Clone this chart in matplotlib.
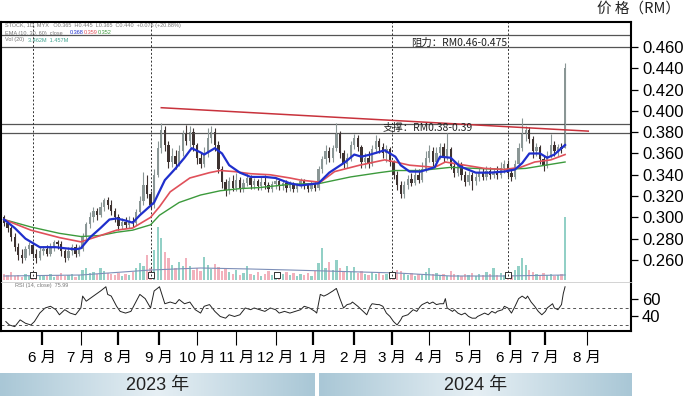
import numpy as np
import pandas as pd
import matplotlib
matplotlib.use("Agg")
import matplotlib.pyplot as plt
from matplotlib.colors import LinearSegmentedColormap
from matplotlib.ticker import FormatStrFormatter

plt.rcParams['font.family'] = ['Liberation Sans', 'Noto Sans CJK SC']

# daily candles, one every 2 trading days (RM)
opens = [.300, .295, .290, .282, .272, .265, .262, .270, .274, .266,
         .262, .268, .270, .266, .272, .277, .275, .268, .262, .268,
         .272, .266, .270, .282, .294, .300, .306, .302, .310, .316,
         .312, .306, .300, .292, .296, .293, .297, .295, .305, .315,
         .330, .322, .312, .340, .365, .382, .368, .352, .358, .350,
         .362, .378, .372, .380, .368, .356, .350, .360, .375, .380,
         .368, .345, .333, .326, .334, .328, .335, .327, .332, .337,
         .330, .334, .329, .333, .330, .327, .331, .334, .329, .332,
         .328, .331, .327, .330, .334, .330, .327, .331, .328, .345,
         .355, .362, .356, .365, .378, .360, .350, .356, .368, .375,
         .366, .352, .356, .350, .364, .372, .366, .360, .364, .352,
         .340, .330, .322, .330, .336, .332, .340, .335, .345, .356,
         .362, .352, .360, .366, .356, .364, .348, .342, .350, .340,
         .333, .340, .334, .338, .342, .338, .344, .340, .343, .340,
         .346, .350, .342, .338, .350, .365, .378, .382, .374, .362,
         .366, .355, .348, .358, .368, .362, .366, .365]
closes = [.295, .290, .282, .272, .265, .262, .270, .274, .266, .262,
          .268, .270, .266, .272, .277, .275, .268, .262, .268, .272,
          .266, .270, .282, .294, .300, .306, .302, .310, .316, .312,
          .306, .300, .292, .296, .293, .297, .295, .305, .315, .330,
          .322, .312, .340, .365, .382, .368, .352, .358, .350, .362,
          .378, .372, .380, .368, .356, .350, .360, .375, .380, .368,
          .345, .333, .326, .334, .328, .335, .327, .332, .337, .330,
          .334, .329, .333, .330, .327, .331, .334, .329, .332, .328,
          .331, .327, .330, .334, .330, .327, .331, .328, .345, .355,
          .362, .356, .365, .378, .360, .350, .356, .368, .375, .366,
          .352, .356, .350, .364, .372, .366, .360, .364, .352, .340,
          .330, .322, .330, .336, .332, .340, .335, .345, .356, .362,
          .352, .360, .366, .356, .364, .348, .342, .350, .340, .333,
          .340, .334, .338, .342, .338, .344, .340, .343, .340, .346,
          .350, .342, .338, .350, .365, .378, .382, .374, .362, .366,
          .355, .348, .358, .368, .362, .366, .364, .440]
highs = [.302, .297, .292, .285, .276, .270, .273, .277, .276, .270,
         .272, .273, .274, .276, .279, .279, .278, .270, .272, .275,
         .275, .274, .285, .296, .305, .310, .309, .314, .318, .319,
         .316, .309, .303, .299, .300, .301, .300, .308, .320, .343,
         .340, .325, .345, .372, .389, .386, .372, .365, .363, .368,
         .382, .387, .386, .384, .370, .360, .366, .384, .386, .384,
         .372, .348, .336, .338, .340, .342, .338, .336, .342, .340,
         .337, .336, .338, .340, .333, .334, .337, .336, .335, .335,
         .334, .333, .332, .337, .336, .332, .334, .333, .348, .358,
         .368, .366, .368, .389, .381, .363, .360, .372, .378, .377,
         .368, .360, .362, .368, .377, .375, .370, .368, .366, .354,
         .344, .334, .334, .340, .342, .346, .345, .352, .362, .368,
         .366, .366, .370, .370, .379, .366, .352, .354, .352, .344,
         .344, .343, .342, .346, .346, .348, .347, .346, .348, .352,
         .354, .354, .345, .354, .370, .393, .386, .385, .376, .370,
         .368, .358, .362, .378, .372, .369, .370, .445]
lows = [.292, .286, .278, .268, .260, .257, .260, .265, .262, .257,
        .260, .265, .264, .264, .268, .270, .264, .258, .260, .265,
        .263, .264, .268, .280, .290, .296, .298, .300, .306, .308,
        .302, .296, .288, .289, .290, .290, .291, .293, .303, .312,
        .318, .308, .309, .338, .360, .362, .346, .347, .345, .348,
        .358, .368, .366, .362, .350, .346, .347, .357, .370, .362,
        .342, .328, .320, .322, .325, .325, .324, .324, .329, .327,
        .327, .326, .326, .327, .324, .324, .327, .326, .326, .324,
        .325, .324, .324, .328, .327, .324, .325, .325, .326, .342,
        .350, .352, .352, .362, .356, .346, .346, .353, .364, .362,
        .346, .346, .346, .348, .360, .360, .356, .352, .348, .336,
        .326, .318, .318, .327, .329, .330, .332, .333, .343, .352,
        .348, .348, .355, .352, .354, .345, .338, .339, .335, .329,
        .330, .326, .330, .334, .335, .335, .336, .337, .336, .337,
        .342, .338, .334, .336, .348, .362, .372, .370, .356, .358,
        .350, .344, .346, .356, .358, .358, .360, .365]
volumes = [6, 5, 8, 4, 5, 3, 6, 4, 5, 7, 4,
           5, 4, 6, 3, 5, 7, 4, 5, 6, 3, 5,
           10, 12, 7, 8, 6, 12, 9, 7, 6,
           5, 7, 4, 6, 5, 8, 12, 17,
           14, 25, 12, 30, 53, 42, 28, 22, 15, 12, 18, 14, 22, 14, 10, 12, 9, 23, 15, 11, 16, 13, 9, 12,
           8, 6, 10, 5, 7, 14, 6, 5, 8, 4, 6, 9, 5, 7, 4, 6, 8, 5, 7, 4, 6, 5, 7, 4, 9,
           17, 32, 12, 18, 10, 20, 12, 9, 14, 8, 13, 7, 9, 6, 5, 8, 6, 7, 5, 6, 5, 8, 10,
           9, 6, 5, 7, 4, 6, 5, 8, 12, 6, 7, 5, 6, 4, 9, 6, 5, 4, 6, 5, 7, 4, 6, 5, 8, 6, 12, 5, 7, 5,
           6, 5, 10, 14, 22, 15, 10, 8, 6, 5, 7, 5, 6, 4, 5, 6, 63]
vol_ma_x = [0, 43, 82, 110, 138, 160, 180, 220, 250, 280, 314]
vol_ma = [4, 5, 10, 12, 11, 10, 9, 7, 4, 4, 5]

# moving averages (trading-day index, price)
ma_s_x = [0, 6, 12, 20, 29, 34, 40, 43, 48, 54, 59, 63, 68, 72, 76, 82, 84, 90, 96, 101,
          105, 110, 112, 118, 122, 126, 132, 138, 146, 152, 160, 166, 176, 182, 191, 196, 200,
          205, 213, 219, 222, 227, 233, 241, 244, 250, 255, 264, 272, 280, 286, 290, 294, 300,
          304, 308, 314]
ma_s = [.298, .290, .280, .272, .272, .271, .270, .271, .281, .290, .298, .299, .297, .295,
        .302, .311, .314, .335, .346, .356, .365, .361, .359, .365, .360, .349, .342, .338,
        .338, .337, .332, .330, .332, .342, .352, .359, .357, .359, .363, .357, .349, .343,
        .343, .347, .357, .356, .348, .342, .342, .343, .345, .351, .360, .360, .356, .359, .368]
ma_m_x = [0, 15, 31, 43, 54, 63, 72, 76, 82, 87, 93, 104, 115, 121, 129, 138, 149, 160, 166,
          177, 185, 199, 213, 219, 227, 241, 247, 258, 269, 280, 289, 297, 306, 314]
ma_m = [.298, .288, .281, .277, .283, .288, .290, .294, .300, .310, .324, .337, .342, .344,
        .343, .341, .340, .337, .335, .333, .343, .349, .354, .352, .349, .347, .352, .349,
        .346, .345, .347, .352, .354, .359]
ma_l_x = [0, 15, 31, 43, 54, 63, 72, 82, 87, 98, 110, 121, 132, 143, 160, 177, 194, 210,
          219, 233, 250, 264, 280, 292, 303, 314]
ma_l = [.298, .291, .285, .282, .283, .286, .288, .293, .302, .314, .321, .325, .327, .328,
        .331, .332, .338, .342, .344, .344, .347, .346, .345, .346, .349, .352]

# RSI (trading-day index, value)
rsi_x = [1, 3, 6, 9, 12, 15, 17, 20, 23, 26, 29, 31, 34, 37, 40, 43, 44, 46, 50, 54, 57, 58,
         60, 63, 65, 68, 71, 73, 76, 79, 82, 84, 87, 90, 93, 96, 98, 101, 104, 107, 110, 112,
         115, 118, 121, 124, 126, 129, 132, 135, 138, 140, 143, 146, 149, 152, 154, 157, 160,
         163, 166, 168, 171, 174, 175, 177, 179, 181, 184, 186, 188, 190, 192, 194, 195, 198,
         199, 201, 203, 205, 206, 209, 210, 212, 214, 216, 218, 220, 222, 223, 226, 227, 229,
         231, 233, 234, 237, 238, 240, 242, 244, 246, 247, 248, 251, 252, 254, 256, 258, 260,
         262, 264, 265, 267, 269, 271, 273, 275, 276, 279, 280, 282, 284, 286, 288, 290, 292,
         293, 295, 297, 299, 301, 303, 304, 307, 308, 310, 312, 313, 314]
rsi = [34, 30, 28, 36, 32, 30, 34, 44, 50, 52, 48, 42, 48, 44, 42, 50, 64, 58, 64, 70, 75, 66,
       64, 52, 46, 44, 46, 54, 66, 61, 50, 70, 75, 55, 57, 55, 60, 55, 57, 48, 44, 52,
       54, 46, 40, 38, 42, 40, 42, 50, 48, 50, 48, 46, 50, 48, 44, 46, 44,
       46, 48, 52, 50, 46, 44, 66, 64, 66, 70, 73, 61, 50, 54, 55, 57, 52,
       50, 46, 42, 52, 55, 54, 54, 52, 44, 40, 34, 30, 36, 40, 42, 44, 48,
       46, 52, 54, 57, 55, 57, 54, 55, 55, 61, 50, 46, 48, 44, 42, 44, 40,
       38, 38, 40, 42, 44, 42, 46, 44, 46, 48, 52, 50, 44, 52, 61, 64, 61,
       64, 57, 52, 46, 42, 46, 50, 55, 50, 48, 54, 67, 75]

trend_x = [88, 327]
trend_y = [0.403, 0.381]
support = [0.3795, 0.388]
resist = [0.460, 0.4715]
event_x = [16, 82, 153, 217, 282]
dashed_x = [16, 82, 217, 282]
thick_months = [True, False, True, True, False, False, False, True, True, True, False, False, True, True, False]

days = pd.bdate_range("2023-05-03", "2024-08-05")
pos = np.arange(len(closes)) * 2
month_pos = [i for i in range(1, len(days)) if days[i].month != days[i - 1].month]
month_lbl = [f"{days[i].month} 月" for i in month_pos]

o = np.array(opens)
c = np.array(closes)
up = c >= o

W, H = 686, 396
fig = plt.figure(figsize=(W / 100, H / 100), dpi=100)


def rect(x0, y0, x1, y1):
    return [x0 / W, 1 - y1 / H, (x1 - x0) / W, (y1 - y0) / H]


xlim = (-1.7, 350.9)

# volume underneath
vax = fig.add_axes(rect(1, 22, 631, 282))
vax.bar(pos, volumes, width=1.3, color=np.where(up, '#86cbc0', '#f1a9b5'), linewidth=0, alpha=0.9)
vax.plot(vol_ma_x, vol_ma, color='#7d8fb8', lw=0.8)
vax.scatter(event_x, [5] * len(event_x), marker='s', s=22, facecolor='white', edgecolor='#333333',
            linewidth=0.7, zorder=5)
vax.set_xlim(xlim)
vax.set_ylim(-2, 258)
vax.axis('off')

ax = fig.add_axes(rect(1, 22, 631, 282))
ax.patch.set_visible(False)
ccol = np.where(up, '#8a9695', '#3d3230')
ax.vlines(pos, lows, highs, colors=ccol, lw=0.8)
ax.bar(pos, np.maximum(np.abs(c - o), 0.0008), bottom=np.minimum(o, c), width=1.3, color=ccol, linewidth=0)

for v in support + resist:
    ax.axhline(v, color='#555555', lw=0.9, zorder=1)
ax.vlines(dashed_x, 0.2445, 0.4835, colors='#333333', lw=0.7, linestyles=(0, (2, 2)))
ax.plot(trend_x, trend_y, color='#c8323c', lw=1.1)
ax.plot(ma_l_x, ma_l, color='#3c9a3c', lw=1.0)
ax.plot(ma_m_x, ma_m, color='#e0505a', lw=1.2)
ax.plot(ma_s_x, ma_s, color='#1f2fcc', lw=1.6)

ax.text(228, 0.4642, "阻力：RM0.46-0.475", fontsize=7.5, va='center', family=['Noto Sans CJK SC'],
        color='#222222')
ax.text(212, 0.3837, "支撑：RM0.38-0.39", fontsize=7.5, va='center', family=['Noto Sans CJK SC'],
        color='#222222')

ax.set_xlim(xlim)
ax.set_ylim(0.2393, 0.4835)
ax.set_xticks([])
ax.yaxis.tick_right()
ax.set_yticks(np.arange(0.26, 0.4601, 0.02))
ax.yaxis.set_major_formatter(FormatStrFormatter('%.3f'))
ax.tick_params(axis='y', direction='out', length=5, width=0.9, labelsize=12, pad=3)
ax.spines['bottom'].set_visible(False)
for s in ['top', 'left', 'right']:
    ax.spines[s].set_linewidth(1.5)

# RSI panel
ar = fig.add_axes(rect(1, 282, 631, 331))
ar.plot(rsi_x, rsi, color='#222222', lw=0.7)
for v in [50, 30]:
    ar.axhline(v, color='#555555', lw=0.7, ls=(0, (3, 3)))
ar.set_xlim(xlim)
ar.set_ylim(22.9, 80.6)
ar.yaxis.tick_right()
ar.set_yticks([40, 60])
ar.tick_params(axis='y', direction='out', length=5, width=0.9, labelsize=12, pad=3)
ar.set_xticks(month_pos[:len(thick_months)], month_lbl[:len(thick_months)])
ar.tick_params(axis='x', direction='out', length=10, labelsize=11, pad=4)
for t, thick in zip(ar.xaxis.get_major_ticks(), thick_months):
    t.tick1line.set_markeredgewidth(1.6 if thick else 0.8)
for s in ['bottom', 'left', 'right']:
    ar.spines[s].set_linewidth(1.5)
ar.spines['top'].set_color('#cccccc')
ar.spines['top'].set_linewidth(0.6)
ar.text(6, 76, "RSI (14, close)  75.99", fontsize=4, color='#777777', va='center')

# small legend rows in the top left corner
fig.text(5 / W, 1 - 26 / H, "STOCK, 1D, MYX   O0.365  H0.445  L0.365  C0.440  +0.076 (+20.88%)",
         fontsize=4, color='#777777', va='center')
fig.text(5 / W, 1 - 33 / H, "EMA (10, 30, 60)  close", fontsize=4, color='#777777', va='center')
fig.text(70 / W, 1 - 33 / H, "0.368", fontsize=4, color='#1f2fcc', va='center')
fig.text(84 / W, 1 - 33 / H, "0.359", fontsize=4, color='#e0505a', va='center')
fig.text(98 / W, 1 - 33 / H, "0.352", fontsize=4, color='#3c9a3c', va='center')
fig.text(5 / W, 1 - 40 / H, "Vol (20)", fontsize=4, color='#777777', va='center')
fig.text(28 / W, 1 - 40 / H, "3.462M  1.457M", fontsize=4, color='#3fa38f', va='center')

fig.text(680 / W, 1 - 9 / H, "价 格（RM）", fontsize=10.5, ha='right', va='center',
         family=['Noto Sans CJK SC'], color='#222222')

# year band
cm = LinearSegmentedColormap.from_list('band', ['#a9c7d6', '#e6eff4', '#a9c7d6'])
grad = np.linspace(0, 1, 256)[None, :]
for (x0, x1), year in [((0, 315), "2023 年"), ((319, 632), "2024 年")]:
    bax = fig.add_axes(rect(x0, 373, x1, 396))
    bax.imshow(grad, aspect='auto', cmap=cm, extent=(0, 1, 0, 1))
    bax.text(0.5, 0.45, year, ha='center', va='center', fontsize=13, color='#222222',
             family=['Liberation Sans', 'Noto Sans CJK SC'])
    bax.axis('off')

fig.savefig("out.png", dpi=100)
